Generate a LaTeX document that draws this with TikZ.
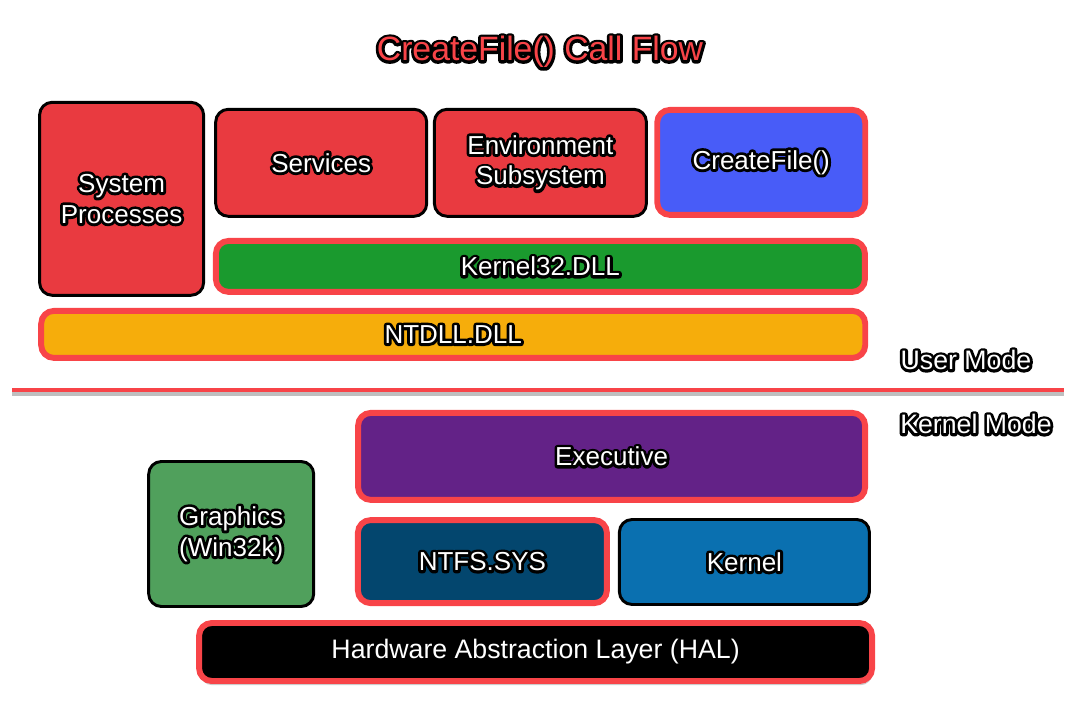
\documentclass[tikz,border=0pt]{standalone}
\usepackage{xcolor}
\usepackage{tikz}
\usetikzlibrary{positioning, shadows}
\usepackage{fontspec}
\setmainfont{Liberation Sans}
\definecolor{boxred}{RGB}{233, 58, 64}
\definecolor{edgered}{RGB}{248, 68, 72}
\definecolor{callblue}{RGB}{72, 92, 248}
\definecolor{dllgreen}{RGB}{26, 154, 46}
\definecolor{ntorange}{RGB}{246, 173, 11}
\definecolor{execpurple}{RGB}{99, 34, 135}
\definecolor{gfxgreen}{RGB}{80, 160, 92}
\definecolor{ntfsblue}{RGB}{3, 70, 110}
\definecolor{kernblue}{RGB}{10, 112, 176}
% black stroked copy below, coloured fill on top
\newcommand{\outlc}[2]{\leavevmode\rlap{\special{pdf:literal direct 1 Tr 4 w 1 j 1 J}\textcolor{black}{#2}\special{pdf:literal direct 0 Tr}}\textcolor{#1}{#2}}
\newcommand{\outl}[1]{\outlc{white}{#1}}

\begin{document}
\begin{tikzpicture}[
    plainbox/.style={draw=black, line width=2.1pt, rounded corners=9pt, align=center, font=\fontsize{18.5}{22}\selectfont},
    hotbox/.style={draw=edgered, line width=4.2pt, rounded corners=9pt, align=center, font=\fontsize{18.5}{22}\selectfont},
    modelabel/.style={font=\fontsize{19}{22}\selectfont},
]
    \useasboundingbox (0,0) rectangle (27,18);

    % Title
    \node[font=\fontsize{24}{28}\selectfont] (title) at (13.5, 16.7) {\outlc{edgered}{CreateFile() Call Flow}};

    % User mode
    \node[plainbox, fill=boxred, minimum width=4.1cm, minimum height=4.825cm] (sysproc) at (3.04, 13.03) {\outl{System}\\\outl{Processes}};
    \node[plainbox, fill=boxred, minimum width=5.275cm, minimum height=2.675cm] (services) at (8.03, 13.93) {\outl{Services}};
    \node[plainbox, fill=boxred, minimum width=5.3cm, minimum height=2.675cm] (envsub) at (13.51, 13.93) {\outl{Environment}\\\outl{Subsystem}};
    \node[hotbox, fill=callblue, minimum width=5.2cm, minimum height=2.625cm] (createfile) at (19.03, 13.94) {\outl{CreateFile()}};
    \node[hotbox, fill=dllgreen, minimum width=16.225cm, minimum height=1.275cm] (kernel32) at (13.51, 11.34) {\outl{Kernel32.DLL}};
    \node[hotbox, fill=ntorange, minimum width=20.6cm, minimum height=1.175cm] (ntdll) at (11.33, 9.64) {\outl{NTDLL.DLL}};
    \node[modelabel] (usermode) at (24.15, 9.0) {\outl{User Mode}};

    % Separator
    \node[fill=edgered, inner sep=0pt, minimum width=26.3cm, minimum height=0.1cm,
          drop shadow={shadow xshift=0pt, shadow yshift=-2.5pt, opacity=0.5}] (sep) at (13.46, 8.25) {};

    % Kernel mode
    \node[modelabel] (kernelmode) at (24.4, 7.4) {\outl{Kernel Mode}};
    \node[hotbox, fill=execpurple, minimum width=12.675cm, minimum height=2.175cm] (executive) at (15.29, 6.59) {\outl{Executive}};
    \node[plainbox, fill=gfxgreen, minimum width=4.125cm, minimum height=3.625cm] (graphics) at (5.78, 4.65) {\outl{Graphics}\\\outl{(Win32k)}};
    \node[hotbox, fill=ntfsblue, minimum width=6.225cm, minimum height=2.075cm] (ntfs) at (12.06, 3.96) {\outl{NTFS.SYS}};
    \node[plainbox, fill=kernblue, minimum width=6.25cm, minimum height=2.125cm] (kernel) at (18.61, 3.95) {\outl{Kernel}};
    \node[hotbox, fill=black, text=white, font=\fontsize{19}{22}\selectfont, minimum width=16.825cm, minimum height=1.45cm,
          drop shadow={shadow xshift=0.5pt, shadow yshift=-3pt, opacity=0.4}] (hal) at (13.39, 1.7) {Hardware Abstraction Layer (HAL)};

\end{tikzpicture}
\end{document}
